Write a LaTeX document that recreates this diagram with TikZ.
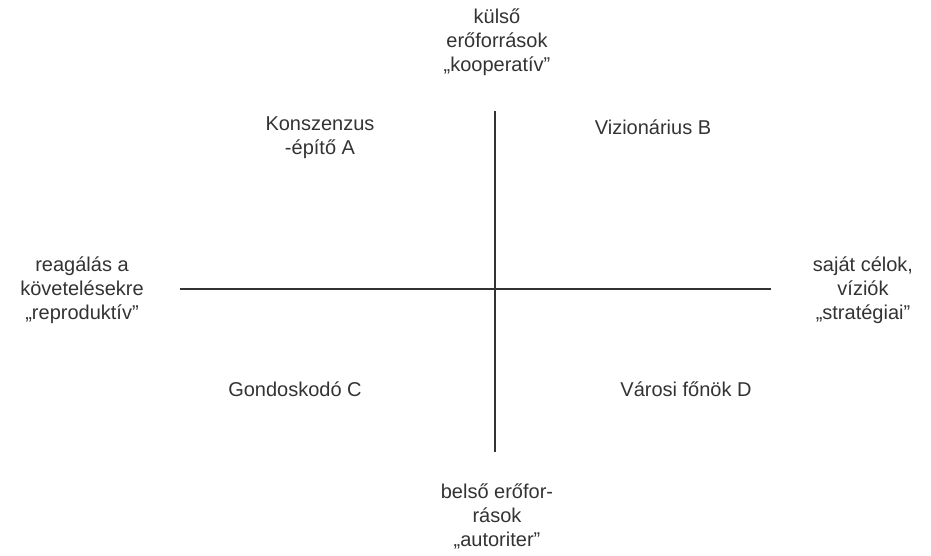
\documentclass[tikz,border=0pt]{standalone}
\usepackage{fontspec}
\setmainfont{Liberation Sans}
\begin{document}
\begin{tikzpicture}[x=1pt,y=-1pt,
  lbl/.style={align=center,text=black!80,font=\fontsize{20}{24}\selectfont,inner sep=0pt},
  axis/.style={draw=black!80,line width=1.2pt}]
\useasboundingbox (0,0) rectangle (931,555);
\coordinate (t) at (495,111);
\coordinate (b) at (495,452);
\coordinate (l) at (180,289);
\coordinate (r) at (771,289);
\draw[axis] (t) -- (b);
\draw[axis] (l) -- (r);
\node[lbl] (top) at (497,42) {külső\\erőforrások\\„kooperatív”};
\node[lbl] (left) at (82,290) {reagálás a\\követelésekre\\„reproduktív”};
\node[lbl] (right) at (863,290) {saját célok,\\víziók\\„stratégiai”};
\node[lbl] (bottom) at (497,516) {belső erőfor-\\rások\\„autoriter”};
\node[lbl] (A) at (320,138) {Konszenzus\\-építő A};
\node[lbl] (B) at (653,127) {Vizionárius B};
\node[lbl] (C) at (295,389) {Gondoskodó C};
\node[lbl] (D) at (686,389) {Városi főnök D};
\end{tikzpicture}
\end{document}
